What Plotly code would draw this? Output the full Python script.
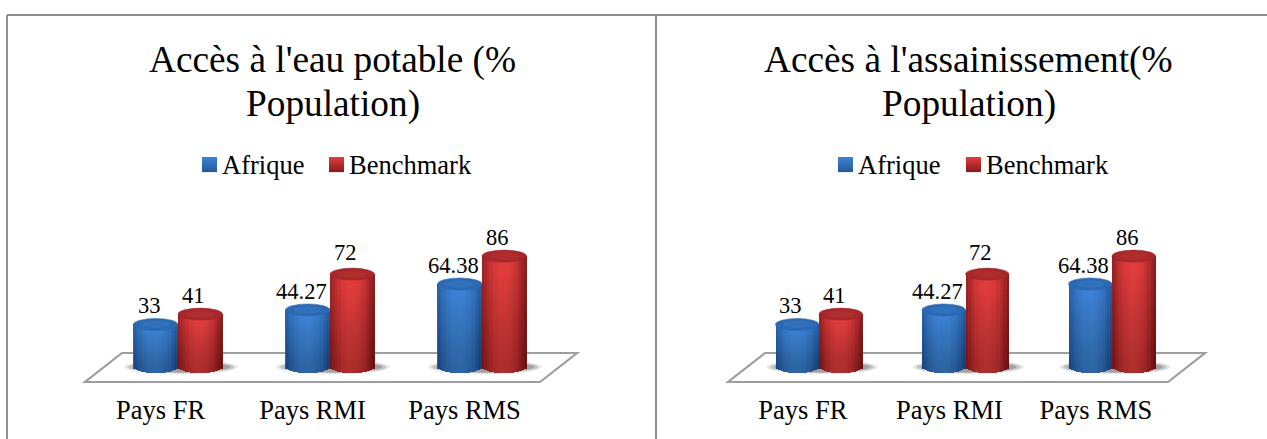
import math
import plotly.graph_objects as go

W, H = 1267, 439
categories = ["Pays FR", "Pays RMI", "Pays RMS"]
series_names = ["Afrique", "Benchmark"]
afrique_eau = [33, 44.27, 64.38]
benchmark_eau = [41, 72, 86]
afrique_assain = [33, 44.27, 64.38]
benchmark_assain = [41, 72, 86]
title_eau = ["Accès à l'eau potable (%", "Population)"]
title_assain = ["Accès à l'assainissement(%", "Population)"]

FONT = "Liberation Serif"
PX_PER_UNIT = 1.29
Y0_PX = 367
Y_TOP_PX, Y_BOT_PX = 230, 391.5
CAP = 6 / PX_PER_UNIT
N = 18
DARK_STEPS = [0.06, 0.12, 0.18, 0.24, 0.3, 0.36, 0.42, 0.48, 0.54, 0.6, 0.66, 0.72, 0.78, 0.84]


def mix(a, b, t):
    return "rgb(%d,%d,%d)" % tuple(round(a[i] + (b[i] - a[i]) * t) for i in range(3))


STYLE = {
    "Afrique": dict(edge=(32, 86, 150), mid=(60, 130, 212), cap="#2b69b2", glow="#3f84d0", dark="#2a62a8"),
    "Benchmark": dict(edge=(132, 26, 28), mid=(226, 60, 60), cap="#a6282a", glow="#c63a3a", dark="#98222a"),
}

fig = go.Figure()
shapes, annos = [], []


def px(x):
    return x / W


def py(y):
    return 1 - y / H


def panel(axn, px_first, px_spacing, bw_px, label_dx, a_vals, b_vals):
    xname = "x" if axn == 1 else "x2"
    yname = "y" if axn == 1 else "y2"
    x_left = px_first - 0.5 * px_spacing
    x_right = px_first + 2.5 * px_spacing
    ax = dict(domain=[px(x_left), px(x_right)], range=[-0.5, 2.5], showgrid=False, zeroline=False,
              showline=False, ticks="", tickmode="array", tickvals=[i + label_dx for i in range(3)],
              ticktext=categories, tickfont=dict(family=FONT, size=26.5, color="#000"),
              anchor=yname, fixedrange=True)
    ay = dict(domain=[py(Y_BOT_PX), py(Y_TOP_PX)],
              range=[-(Y_BOT_PX - Y0_PX) / PX_PER_UNIT, (Y0_PX - Y_TOP_PX) / PX_PER_UNIT],
              showgrid=False, zeroline=False, showticklabels=False, showline=False, ticks="",
              anchor=xname, fixedrange=True)
    fig.update_layout({("xaxis" if axn == 1 else "xaxis2"): ax, ("yaxis" if axn == 1 else "yaxis2"): ay})

    w = bw_px / px_spacing
    # contact shadows under the cylinders
    for i in range(3):
        for rw, rh, op in [(1.27, 1.15, 0.14), (1.19, 1.0, 0.2), (1.1, 0.9, 0.26)]:
            cx = i + 0.02
            half = w * rw
            shapes.append(dict(type="circle", xref=xname, yref=yname, layer="below",
                               x0=cx - half, x1=cx + half, y0=-CAP * rh, y1=CAP * rh,
                               fillcolor="#404040", opacity=op, line_width=0))

    for name, vals, off in [("Afrique", a_vals, -w / 2), ("Benchmark", b_vals, w / 2)]:
        st = STYLE[name]
        xc = [i + off for i in range(3)]
        fig.add_trace(go.Bar(x=xc, y=vals, width=w * 0.985, name=name, xaxis=xname, yaxis=yname,
                             marker=dict(color=mix(st["edge"], st["mid"], 0.6), line_width=0),
                             showlegend=False, hoverinfo="x+y"))
        strips = []
        for s in range(N):
            u = -1 + (s + 0.5) * 2 / N
            t = max(0.0, 1 - ((u + 0.05) / 1.05) ** 2)
            dy = CAP * math.sqrt(max(0, 1 - u * u))
            strips.append((u, dy))
            fig.add_trace(go.Bar(x=[c + u * w / 2 for c in xc], y=[v + dy for v in vals],
                                 base=[-dy] * 3, width=w / N * 1.05, xaxis=xname, yaxis=yname,
                                 marker=dict(color=mix(st["edge"], st["mid"], t), line_width=0),
                                 showlegend=False, hoverinfo="skip"))
        # darkening towards the foot of each cylinder
        for f in DARK_STEPS:
            xs, ys, bs = [], [], []
            for c, v in zip(xc, vals):
                for u, dy in strips:
                    xs.append(c + u * w / 2)
                    ys.append(v * f + dy)
                    bs.append(-dy)
            fig.add_trace(go.Bar(x=xs, y=ys, base=bs, width=w / N, xaxis=xname, yaxis=yname,
                                 marker=dict(color="rgba(0,0,0,0.016)", line_width=0),
                                 showlegend=False, hoverinfo="skip"))
        for c, v in zip(xc, vals):
            shapes.append(dict(type="circle", xref=xname, yref=yname, layer="above",
                               x0=c - w / 2, x1=c + w / 2, y0=v - CAP, y1=v + CAP,
                               fillcolor=st["cap"], line=dict(color=st["dark"], width=0.5)))
            shapes.append(dict(type="circle", xref=xname, yref=yname, layer="above",
                               x0=c - w * 0.32, x1=c + w * 0.32, y0=v - CAP * 0.62, y1=v + CAP * 0.62,
                               fillcolor=st["glow"], opacity=0.3, line_width=0))
            annos.append(dict(x=c, y=v, xref=xname, yref=yname, text=("%g" % v), showarrow=False,
                              xshift=-6.5, yshift=22 if v == 72 else 18.5, yanchor="middle", xanchor="center",
                              font=dict(family=FONT, size=22.5, color="#000")))


panel(1, 178, 152, 44.5, -0.115, afrique_eau, benchmark_eau)
panel(2, 819, 146.5, 43.5, -0.11, afrique_assain, benchmark_assain)


def paper_path(pts):
    return "M " + " L ".join(f"{px(x):.5f},{py(y):.5f}" for x, y in pts) + " Z"


floor_shapes = [
    dict(type="path", xref="paper", yref="paper", layer="below", fillcolor="#ffffff",
         line=dict(color="#9e9e9e", width=2.2),
         path=paper_path(pts))
    for pts in ([(122, 353), (577, 353), (540, 382), (85, 382)],
                [(765, 353), (1205, 353), (1168, 382), (728, 382)])
]

# table rules
rules = [(7, 15, 1267, 15), (7, 15, 7, 439), (656, 15, 656, 439)]
rule_shapes = [dict(type="line", xref="paper", yref="paper", layer="below",
                    x0=px(a), y0=py(b), x1=px(c), y1=py(d), line=dict(color="#8f8f8f", width=2))
               for a, b, c, d in rules]


def text(x, y, s, size, anchor="center"):
    annos.append(dict(x=px(x), y=py(y), xref="paper", yref="paper", text=s, showarrow=False,
                      xanchor=anchor, yanchor="middle", font=dict(family=FONT, size=size, color="#000")))


for cx, lines in [(332.5, title_eau), (968.5, title_assain)]:
    text(cx, 60, lines[0], 37.3)
    text(cx, 104, lines[1], 37.3)

swatches = []
for x_a, x_b in [(202, 329), (838, 966)]:
    for x, name in zip((x_a, x_b), series_names):
        st = STYLE[name]
        for r in range(15):
            swatches.append(dict(type="rect", xref="paper", yref="paper", layer="above",
                                 x0=px(x), x1=px(x + 15), y0=py(157 + r), y1=py(158.1 + r),
                                 fillcolor=mix(st["mid"], st["edge"], r / 15), line_width=0))
        text(x + 18, 165, name, 26.5, "left")

fig.update_layout(
    width=W, height=H, margin=dict(l=0, r=0, t=0, b=0), barmode="overlay", bargap=0,
    paper_bgcolor="#ffffff", plot_bgcolor="rgba(0,0,0,0)", showlegend=False,
    shapes=rule_shapes + floor_shapes + shapes + swatches, annotations=annos,
)
fig.write_html("out.html", post_script="document.body.style.margin='0';document.documentElement.style.overflow='hidden';",
               config={"displayModeBar": False})
